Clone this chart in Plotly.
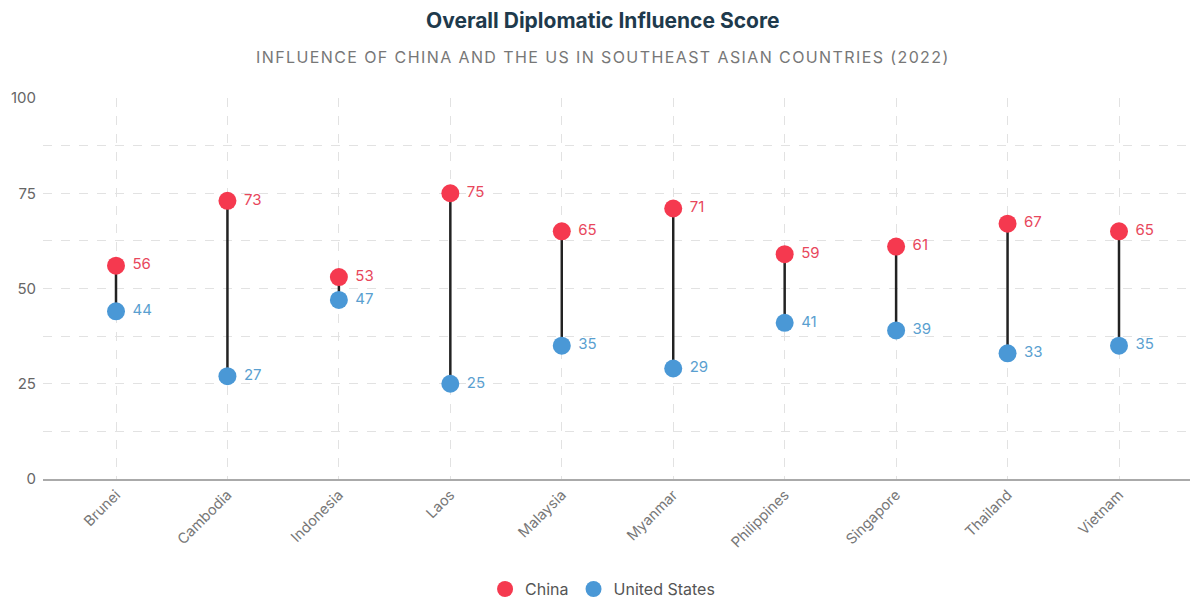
import plotly.graph_objects as go

countries = ["Brunei", "Cambodia", "Indonesia", "Laos", "Malaysia",
             "Myanmar", "Philippines", "Singapore", "Thailand", "Vietnam"]
china = [56, 73, 53, 75, 65, 71, 59, 61, 67, 65]
us = [44, 27, 47, 25, 35, 29, 41, 39, 33, 35]
y_ticks = [0, 12.5, 25, 37.5, 50, 62.5, 75, 87.5, 100]
y_labels = ["0", "", "25", "", "50", "", "75", "", "100"]

RED = "#f5394f"
BLUE = "#4a98d6"

pos = list(range(len(countries)))

# connector lines, one segment per country
lx, ly = [], []
for i, (c, u) in enumerate(zip(china, us)):
    lx += [i, i, None]
    ly += [c, u, None]

fig = go.Figure()
fig.add_trace(go.Scatter(
    x=lx, y=ly, mode="lines", line=dict(color="#222222", width=2.5),
    showlegend=False, hoverinfo="skip",
))
fig.add_trace(go.Scatter(
    x=pos, y=china, mode="markers+text", name="China",
    marker=dict(color=RED, size=18),
    text=[" " + str(v) for v in china], textposition="middle right",
    textfont=dict(color="#e8475c", size=15),
))
fig.add_trace(go.Scatter(
    x=pos, y=us, mode="markers+text", name="United States",
    marker=dict(color=BLUE, size=18),
    text=[" " + str(v) for v in us], textposition="middle right",
    textfont=dict(color="#5a9fd0", size=15),
))

fig.add_annotation(
    text="<b>Overall Diplomatic Influence Score</b>",
    xref="paper", yref="paper", x=0.5, y=1, xshift=-15, yshift=78,
    xanchor="center", yanchor="middle",
    showarrow=False, font=dict(size=21, color="#1e3a4c"),
)
fig.add_annotation(
    text="<span style='letter-spacing:1.4px'>INFLUENCE OF CHINA AND THE US IN SOUTHEAST ASIAN COUNTRIES (2022)</span>",
    xref="paper", yref="paper", x=0.5, y=1, xshift=-15, yshift=41,
    xanchor="center", yanchor="middle",
    showarrow=False, font=dict(size=16, color="#777777"),
)

fig.update_layout(
    width=1198, height=599,
    paper_bgcolor="white", plot_bgcolor="white",
    font=dict(family="Inter, Lato, sans-serif", color="#666666"),
    margin=dict(l=35, r=14, t=90, b=128, autoexpand=False),
    xaxis=dict(
        tickvals=pos, ticktext=countries, range=[-0.655, 9.655],
        tickangle=-45, tickfont=dict(size=14.5, color="#777777"),
        showgrid=True, gridcolor="#e2e2e2", griddash="dash", gridwidth=1,
        showline=True, linecolor="#aaaaaa", linewidth=1.5,
        zeroline=False, ticks="", automargin=False,
    ),
    yaxis=dict(
        tickvals=y_ticks, ticktext=y_labels, range=[0, 100],
        tickfont=dict(size=15, color="#666666"),
        showgrid=True, gridcolor="#e2e2e2", griddash="dash", gridwidth=1,
        zeroline=False, ticks="", ticklabelstandoff=6, automargin=False,
    ),
    legend=dict(
        orientation="h", x=0.487, xanchor="center", y=-0.289, yanchor="middle",
        font=dict(size=16, color="#555555"),
    ),
)

fig.write_html("out.html")
